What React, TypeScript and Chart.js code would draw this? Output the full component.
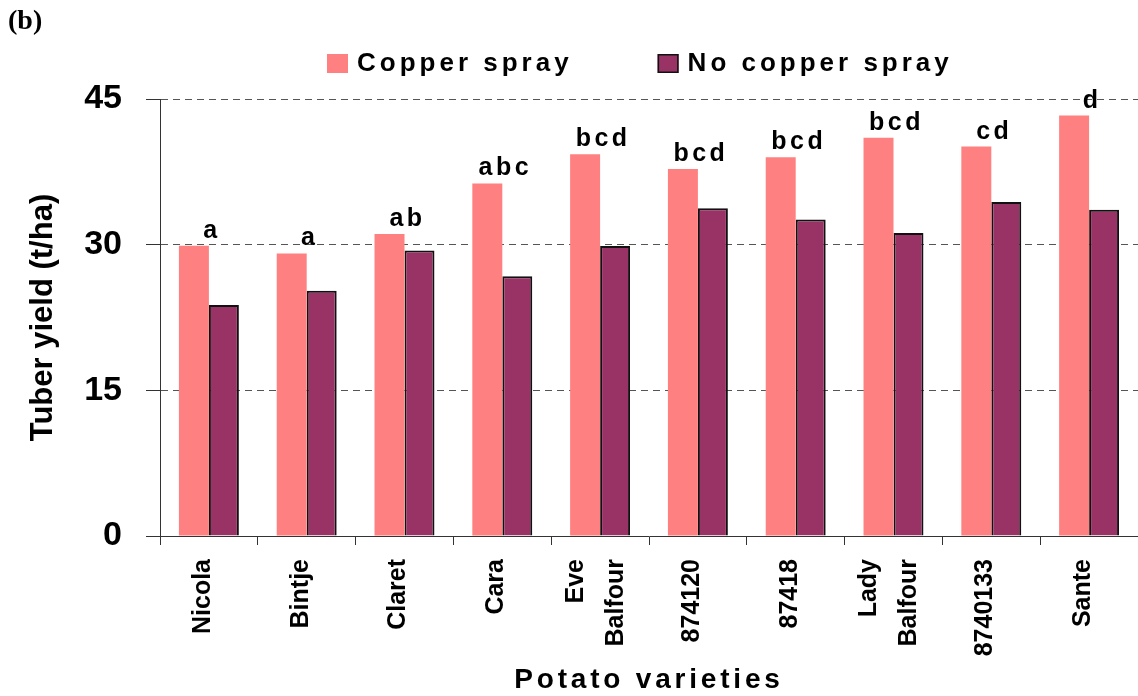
import { useEffect, useRef } from "react";
import { Chart, registerables } from "chart.js";

Chart.register(...registerables);

const panelLabel = "(b)";
const varieties: (string | string[])[] = [
  "Nicola",
  "Bintje",
  "Claret",
  "Cara",
  ["Eve", "Balfour"],
  "874120",
  "87418",
  ["Lady", "Balfour"],
  "8740133",
  "Sante",
];
const copperSpray = [29.9, 29.1, 31.1, 36.3, 39.3, 37.8, 39.0, 41.0, 40.1, 43.3];
const noCopperSpray = [23.8, 25.25, 29.4, 26.75, 29.85, 33.75, 32.6, 31.2, 34.4, 33.6];
const significanceLetters = ["a", "a", "ab", "abc", "bcd", "bcd", "bcd", "bcd", "cd", "d"];
const yTicks = [0, 15, 30, 45];
const xTitle = "Potato varieties";
const yTitle = "Tuber yield (t/ha)";
const seriesNames = ["Copper spray", "No copper spray"];

const FONT = "'Liberation Sans', Arial, sans-serif";

const overlayPlugin = {
  id: "overlay",
  afterDraw(chart: any) {
    const ctx = chart.ctx as CanvasRenderingContext2D;
    const area = chart.chartArea;
    ctx.save();
    // panel label
    ctx.fillStyle = "#000";
    ctx.textAlign = "left";
    ctx.textBaseline = "alphabetic";
    ctx.font = "bold 28px 'Liberation Serif', 'Times New Roman', serif";
    ctx.fillText(panelLabel, 8, 29);

    // legend
    ctx.font = `bold 26px ${FONT}`;
    (ctx as any).letterSpacing = "4px";
    ctx.textBaseline = "middle";
    let x = 327;
    chart.data.datasets.forEach((ds: any) => {
      ctx.fillStyle = ds.backgroundColor;
      ctx.fillRect(x, 54, 21, 19);
      if (ds.borderWidth) {
        ctx.lineWidth = 1.5;
        ctx.strokeStyle = ds.borderColor;
        ctx.strokeRect(x + 0.75, 54.75, 19.5, 17.5);
      }
      ctx.fillStyle = "#000";
      ctx.fillText(ds.label, x + 30, 64);
      x += 30 + ctx.measureText(ds.label).width + 85;
    });

    // x axis title
    ctx.font = `bold 28px ${FONT}`;
    (ctx as any).letterSpacing = "3.8px";
    ctx.textAlign = "center";
    ctx.textBaseline = "alphabetic";
    ctx.fillText(xTitle, (area.left + area.right) / 2, 688);

    // significance letters
    ctx.font = `bold 25px ${FONT}`;
    (ctx as any).letterSpacing = "3.5px";
    const meta = chart.getDatasetMeta(0);
    const xs = chart.scales.x;
    significanceLetters.forEach((t, i) => {
      const bar = meta.data[i];
      const cx = xs.getPixelForValue(i);
      ctx.fillText(t, cx + 3, bar.y - 8);
    });
    ctx.restore();
  },
};

export default function App() {
  const ref = useRef<HTMLCanvasElement | null>(null);
  useEffect(() => {
    if (!ref.current) return;
    const chart = new Chart(ref.current, {
      type: "bar",
      data: {
        labels: varieties,
        datasets: [
          {
            label: seriesNames[0],
            data: copperSpray,
            backgroundColor: "#FF8080",
            borderWidth: 0,
            categoryPercentage: 0.613,
            barPercentage: 1,
          },
          {
            label: seriesNames[1],
            data: noCopperSpray,
            backgroundColor: "#993366",
            borderColor: "#111",
            borderWidth: 2,
            categoryPercentage: 0.613,
            barPercentage: 1,
          },
        ],
      },
      options: {
        animation: false,
        responsive: true,
        maintainAspectRatio: false,
        layout: { padding: { top: 99, left: 0, right: 0, bottom: 0 } },
        plugins: {
          legend: { display: false },
          tooltip: { enabled: false },
          title: { display: false },
        },
        scales: {
          x: {
            afterFit: (s: any) => {
              s.height = 160;
              s.paddingLeft = 0;
              s.paddingRight = 0;
            },
            grid: {
              offset: true,
              drawOnChartArea: false,
              drawTicks: true,
              tickLength: 9,
              color: "#333",
            },
            border: { display: true, color: "#333", width: 1 },
            ticks: {
              autoSkip: false,
              minRotation: 90,
              maxRotation: 90,
              padding: 14,
              labelOffset: -24,
              color: "#000",
              callback: (_v: any, i: number) => {
                const l = varieties[i];
                return Array.isArray(l) ? l : ["", l];
              },
              font: (c: any) => ({
                family: FONT,
                size: 25,
                weight: "bold",
                lineHeight: Array.isArray(varieties[c.index]) ? 1.6 : 0.72,
              }),
            },
          },
          y: {
            min: 0,
            max: 45,
            afterFit: (s: any) => {
              s.width = 160;
            },
            afterBuildTicks: (s: any) => {
              s.ticks = yTicks.map((v) => ({ value: v }));
            },
            grid: {
              color: (c: any) => (c.tick && c.tick.value === 0 ? "rgba(0,0,0,0)" : "#555"),
              tickColor: "#333",
              tickLength: 14,
              tickBorderDash: [],
              drawTicks: true,
            },
            border: { display: true, color: "#333", width: 1, dash: [7, 5] },
            ticks: {
              padding: 24,
              color: "#000",
              font: { family: FONT, size: 34, weight: "bold" },
            },
            title: {
              display: true,
              text: yTitle,
              color: "#000",
              padding: { top: 25, bottom: 0 },
              font: { family: FONT, size: 31, weight: "bold" },
            },
          },
        },
      },
      plugins: [overlayPlugin],
    });
    return () => chart.destroy();
  }, []);
  return (
    <div style={{ position: "absolute", left: 0, top: 0, width: 1138, height: 696, background: "#fff" }}>
      <canvas ref={ref} />
    </div>
  );
}
